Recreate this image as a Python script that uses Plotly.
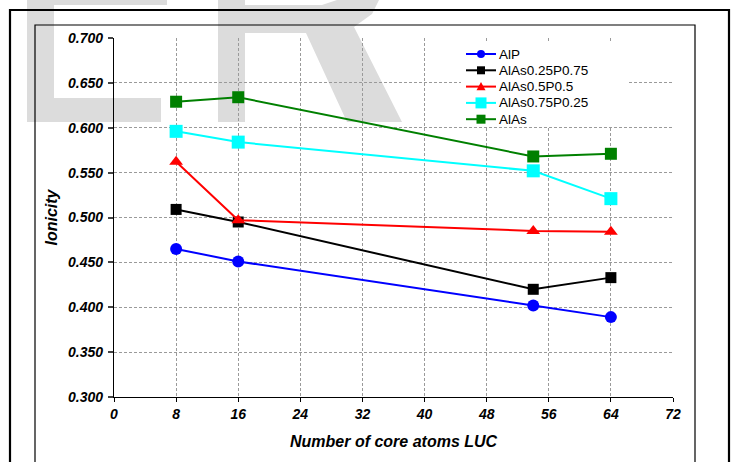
import plotly.graph_objects as go

# ---- data ----
core_atoms = [8, 16, 54, 64]
series_names = ["AlP", "AlAs0.25P0.75", "AlAs0.5P0.5", "AlAs0.75P0.25", "AlAs"]
alp = [0.465, 0.451, 0.402, 0.389]
alas025 = [0.509, 0.495, 0.420, 0.433]
alas05 = [0.562, 0.497, 0.485, 0.484]
alas075 = [0.596, 0.584, 0.552, 0.521]
alas = [0.629, 0.634, 0.568, 0.571]
x_ticks = [0, 8, 16, 24, 32, 40, 48, 56, 64, 72]
y_ticks = [0.300, 0.350, 0.400, 0.450, 0.500, 0.550, 0.600, 0.650, 0.700]

series_values = [alp, alas025, alas05, alas075, alas]
colors = ["#0000FF", "#000000", "#FF0000", "#00FFFF", "#008000"]
symbols = ["circle", "square", "triangle-up", "square", "square"]
marker_sizes = [12, 11, 12, 13, 12]
legend_marker_sizes = [8, 8, 9, 11, 9]

W, H = 735, 462
L, R, T, B = 114, 62, 38, 65
PW, PH = W - L - R, H - T - B
FONT = "Liberation Sans"


def px_x(px):
    return (px - L) / PW


def px_y(py):
    return (H - B - py) / PH


def path(points):
    return "M " + " L ".join(f"{px_x(a):.5f},{px_y(b):.5f}" for a, b in points) + " Z"


fig = go.Figure()
for name, vals, col, sym, ms in zip(series_names, series_values, colors, symbols, marker_sizes):
    fig.add_trace(go.Scatter(
        x=core_atoms, y=vals, name=name, mode="lines+markers",
        line=dict(color=col, width=2),
        marker=dict(color=col, symbol=sym, size=ms, line=dict(width=0)),
        showlegend=False,
    ))

shapes = []
# faint lettering in the page background
wm = "#dcdcdc"
for pts in [
    [(27, -2), (167, -2), (167, 5), (54, 5), (54, 98), (161, 98), (161, 122), (27, 122)],
    [(218, -2), (245, -2), (245, 122), (218, 122)],
    [(245, -2), (380, -2), (372, 14), (354, 27), (402, 122), (347, 122), (306, 33),
     (245, 33), (245, 5), (322, 5), (343, -2)],
]:
    shapes.append(dict(type="path", xref="paper", yref="paper", path=path(pts),
                       fillcolor=wm, line=dict(width=0), layer="below"))

# page frames
shapes.append(dict(type="rect", xref="paper", yref="paper",
                   x0=px_x(10), x1=px_x(729), y0=px_y(480), y1=px_y(10),
                   line=dict(color="black", width=2.2), fillcolor="rgba(0,0,0,0)", layer="below"))
shapes.append(dict(type="rect", xref="paper", yref="paper",
                   x0=px_x(35), x1=px_x(695), y0=px_y(480), y1=px_y(25),
                   line=dict(color="black", width=1.2), fillcolor="rgba(0,0,0,0)", layer="below"))

# legend box
shapes.append(dict(type="rect", xref="paper", yref="paper",
                   x0=px_x(461), x1=px_x(628), y0=px_y(127), y1=px_y(41),
                   line=dict(width=0), fillcolor="white", layer="above"))
annotations = []
lx0, lx1, ltext = 466, 496, 497
for i, (name, col, sym, ms) in enumerate(zip(series_names, colors, symbols, legend_marker_sizes)):
    cy = 54 + i * 16.3
    shapes.append(dict(type="line", xref="paper", yref="paper",
                       x0=px_x(lx0), x1=px_x(lx1), y0=px_y(cy), y1=px_y(cy),
                       line=dict(color=col, width=2), layer="above"))
    cx = (lx0 + lx1) / 2
    h = ms / 2
    if sym == "circle":
        shapes.append(dict(type="circle", xref="paper", yref="paper",
                           x0=px_x(cx - h), x1=px_x(cx + h), y0=px_y(cy + h), y1=px_y(cy - h),
                           fillcolor=col, line=dict(width=0), layer="above"))
    elif sym == "square":
        shapes.append(dict(type="rect", xref="paper", yref="paper",
                           x0=px_x(cx - h), x1=px_x(cx + h), y0=px_y(cy + h), y1=px_y(cy - h),
                           fillcolor=col, line=dict(width=0), layer="above"))
    else:
        shapes.append(dict(type="path", xref="paper", yref="paper",
                           path=path([(cx - h, cy + h * 0.8), (cx + h, cy + h * 0.8), (cx, cy - h)]),
                           fillcolor=col, line=dict(width=0), layer="above"))
    annotations.append(dict(xref="paper", yref="paper", x=px_x(ltext), y=px_y(cy),
                            text=name, showarrow=False, xanchor="left", yanchor="middle",
                            font=dict(family=FONT, size=13.5, color="black")))

title_font = dict(family=FONT, size=16, color="black", weight="bold", style="italic")
annotations.append(dict(xref="paper", yref="paper", x=0.5, y=px_y(441),
                        text="Number of core atoms LUC", showarrow=False,
                        xanchor="center", yanchor="middle", font=title_font))
annotations.append(dict(xref="paper", yref="paper", x=px_x(51), y=0.5,
                        text="Ionicity", showarrow=False, textangle=-90,
                        xanchor="center", yanchor="middle", font=title_font))

tick_font = dict(family=FONT, size=14, color="black", weight="bold", style="italic")
grid = dict(showgrid=True, gridcolor="#9a9a9a", gridwidth=1, griddash="3px,2px")
fig.update_xaxes(range=[0, 72], tickvals=x_ticks, ticks="outside", ticklen=4,
                 tickcolor="black", showline=True, linecolor="black", linewidth=1.3,
                 tickfont=tick_font, zeroline=False, **grid)
fig.update_yaxes(range=[0.3, 0.7], tickvals=y_ticks, tickformat=".3f", ticks="outside",
                 ticklen=5, tickcolor="#444444", tickwidth=1.5, showline=True,
                 linecolor="black", linewidth=1.3, tickfont=tick_font, zeroline=False,
                 ticklabelstandoff=2, **grid)

fig.update_layout(
    width=W, height=H, margin=dict(l=L, r=R, t=T, b=B, autoexpand=False),
    paper_bgcolor="white", plot_bgcolor="rgba(0,0,0,0)",
    shapes=shapes, annotations=annotations, showlegend=False,
    font=dict(family=FONT),
)
fig.write_html("out.html")
